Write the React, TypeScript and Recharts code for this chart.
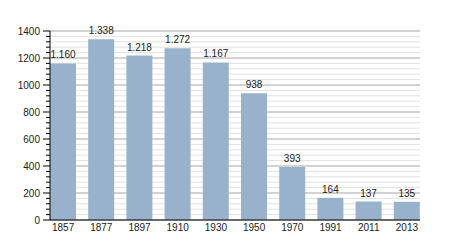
import { BarChart, Bar, XAxis, YAxis, CartesianGrid, LabelList } from "recharts";

const years = ["1857", "1877", "1897", "1910", "1930", "1950", "1970", "1991", "2011", "2013"];
const population = [1160, 1338, 1218, 1272, 1167, 938, 393, 164, 137, 135];
const majorTicks = [0, 200, 400, 600, 800, 1000, 1200, 1400];
const minorTicks = [40, 80, 120, 160, 240, 280, 320, 360, 440, 480, 520, 560, 640, 680, 720, 760, 840, 880, 920, 960, 1040, 1080, 1120, 1160, 1240, 1280, 1320, 1360];

const data = years.map((year, i) => ({ year, value: population[i] }));
const allTicks = [...majorTicks, ...minorTicks].sort((a, b) => a - b);

const font = "'Liberation Sans', Arial, sans-serif";

// dotted thousands, like the original (1.338)
const fmt = (v: number) => (v >= 1000 ? `${Math.floor(v / 1000)}.${String(v % 1000).padStart(3, "0")}` : String(v));

const YTick = ({ x, y, payload }: any) => {
  const isMajor = majorTicks.includes(payload.value);
  return (
    <g>
      <line x1={x + (isMajor ? 3 : 6)} x2={x + 10} y1={y} y2={y} stroke="#000" strokeWidth={1} />
      {isMajor && (
        <text x={x} y={y} dy="0.35em" textAnchor="end" fontSize={10} fill="#222" fontFamily={font}>
          {payload.value}
        </text>
      )}
    </g>
  );
};

export default function App() {
  return (
    <div style={{ position: "absolute", left: 0, top: 0, background: "#fff" }}>
      <BarChart width={450} height={250} data={data} margin={{ top: 31, right: 30, bottom: 0, left: 0 }}>
        <CartesianGrid vertical={false} horizontalValues={minorTicks} stroke="#e2e2e2" />
        <CartesianGrid vertical={false} horizontalValues={majorTicks} stroke="#a6a6a6" />
        <XAxis
          dataKey="year"
          padding={{ left: -6, right: -6 }}
          height={30}
          tickSize={0}
          tickMargin={4}
          tickLine={false}
          axisLine={{ stroke: "#000" }}
          tick={{ fontSize: 10, fill: "#222", fontFamily: font }}
          interval={0}
        />
        <YAxis
          width={50}
          domain={[0, 1400]}
          ticks={allTicks}
          interval={0}
          tickSize={7}
          tickMargin={3}
          tickLine={false}
          axisLine={{ stroke: "#000" }}
          tick={<YTick />}
        />
        <Bar dataKey="value" fill="#99b2cc" barSize={26} isAnimationActive={false}>
          <LabelList dataKey="value" position="top" formatter={(v: any) => fmt(Number(v))} fontSize={10} fill="#222" fontFamily={font} />
        </Bar>
      </BarChart>
    </div>
  );
}
